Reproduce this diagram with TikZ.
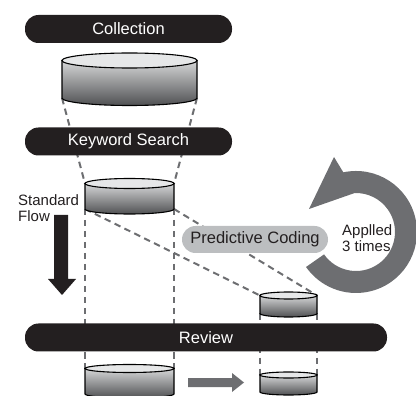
\documentclass[tikz,border=0pt]{standalone}
\usepackage{fontspec}
\setmainfont{Liberation Sans}
\usetikzlibrary{calc,backgrounds}
\definecolor{barc}{HTML}{231F20}
\definecolor{grayc}{HTML}{6D6E71}
\definecolor{pillc}{HTML}{BCBEC0}
\definecolor{cyltopc}{HTML}{E6E7E8}
\definecolor{sidetop}{HTML}{D6D7D8}
\definecolor{sidebot}{HTML}{505153}
\tikzset{
  bar/.style={fill=barc, rounded corners=13.5pt, minimum height=28pt, inner sep=0pt, text=white, font=\fontsize{16.5}{19}\selectfont},
  pill/.style={fill=pillc, rounded corners=13.5pt, minimum height=27pt, inner sep=0pt, text=barc, font=\fontsize{16.5}{19}\selectfont},
  dashline/.style={draw=grayc, line width=2pt, dash pattern=on 6.5pt off 4.5pt},
  cylside/.style={draw=black, line width=1.1pt, top color=sidetop, bottom color=sidebot},
  cyltop/.style={draw=black, line width=1.1pt, fill=cyltopc},
  lbl/.style={font=\fontsize{15}{16}\selectfont, text=barc, align=left, inner sep=0pt},
}
% name, cx, ytop, ybot, rx, ry
\newcommand\mycyl[6]{%
  \path[cylside] (#2-#5,#3) -- (#2-#5,#4) arc[start angle=180,end angle=0,x radius=#5,y radius=#6] -- (#2+#5,#3) -- cycle;
  \path[cyltop] (#2,#3) ellipse[x radius=#5,y radius=#6];
  \coordinate (#1-tl) at (#2-#5,#3);
  \coordinate (#1-tr) at (#2+#5,#3);
  \coordinate (#1-bl) at (#2-#5,#4);
  \coordinate (#1-br) at (#2+#5,#4);
}
\begin{document}
\begin{tikzpicture}[x=1pt,y=-1pt]
\useasboundingbox (0,0) rectangle (416,396);
\clip (0,0) rectangle (416,396);
% cylinders
\mycyl{coll}{129.5}{60.5}{98}{67.5}{7.5}
\mycyl{kw}{129.5}{183.5}{209}{44.5}{5}
\mycyl{pc}{288.5}{295.5}{313.5}{28.5}{3.5}
\mycyl{bl}{129.5}{368.5}{394}{44.5}{4}
\mycyl{br}{288.5}{375}{392}{28.5}{3}
% dashed guide lines
\begin{pgfonlayer}{background}
\draw[dashline] (coll-bl) -- (kw-tl);
\draw[dashline] (coll-br) -- (kw-tr);
\draw[dashline] (kw-bl) -- (bl-tl);
\draw[dashline] (kw-br) -- (bl-tr);
\draw[dashline] (kw-bl) -- (pc-tl);
\draw[dashline] (kw-br) -- (pc-tr);
\draw[dashline] (pc-bl) -- (br-tl);
\draw[dashline] (pc-br) -- (br-tr);
\end{pgfonlayer}
% bars
\node[bar, minimum width=207pt] (collection) at (128.5,29) {Collection};
\node[bar, minimum width=207pt] (keyword) at (128.5,141.5) {Keyword Search};
\node[bar, minimum width=362pt] (review) at (206,337.5) {Review};
% predictive coding pill
\node[pill, minimum width=146pt] (predictive) at (255,239.5) {Predictive Coding};
% labels
\node[lbl, anchor=west] (standard) at (18,208.5) {Standard\\Flow};
\node[lbl, anchor=west] (applied) at (342,238) {Applled\\3 times};
% standard flow arrow
\fill[barc] (54,215) -- (68,215) -- (68,279) -- (76,279) -- (62,295) -- (48,279) -- (54,279) -- cycle;
% gray arrow between bottom cylinders
\fill[grayc] (188,378) -- (232,378) -- (232,373) -- (244,382.5) -- (232,392) -- (232,387) -- (188,387) -- cycle;
% circular arrow
\coordinate (rc) at (356,232);
\coordinate (rA) at (334,157);
\coordinate (rT) at (309,209);
\fill[grayc] (rA) -- ($(rc)+(-102:61)$) arc[start angle=-102,end angle=145,radius=61]
  -- ($(rc)+(145:39)$) arc[start angle=145,end angle=-92,radius=39] -- (rT) -- cycle;
\end{tikzpicture}
\end{document}
